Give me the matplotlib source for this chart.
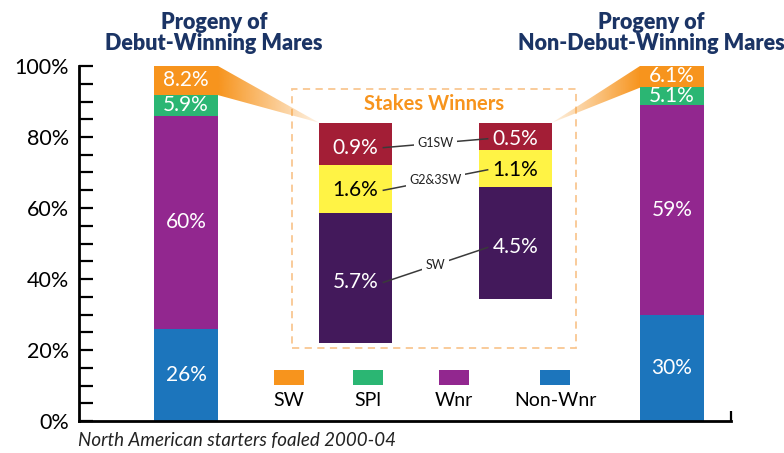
import numpy as np
import matplotlib
matplotlib.use("Agg")
import matplotlib.pyplot as plt
from matplotlib.patches import Polygon, Rectangle
from matplotlib.ticker import MultipleLocator, FixedLocator

plt.rcParams['font.family'] = ['Lato', 'DejaVu Sans']

# ---------------- data ----------------
groups = ["Progeny of\nDebut-Winning Mares", "Progeny of\nNon-Debut-Winning Mares"]
series = ["Non-Wnr", "Wnr", "SPl", "SW"]
non_wnr = [26, 30]
wnr = [60, 59]
spl = [5.9, 5.1]
sw = [8.2, 6.1]

# stakes-winner breakdown (top to bottom)
tiers = ["G1SW", "G2&3SW", "SW"]
g1sw = [0.9, 0.5]
g23sw = [1.6, 1.1]
sw_other = [5.7, 4.5]

yticks = [0, 20, 40, 60, 80, 100]
caption = "North American starters foaled 2000-04"

# ---------------- style ----------------
W, H = 784, 453
c_series = {"Non-Wnr": "#1C75BC", "Wnr": "#92278F", "SPl": "#2BB673", "SW": "#F7941D"}
c_tiers = ["#A31E36", "#FFF345", "#43195B"]
c_tier_text = ["white", "black", "white"]
navy = "#1B3465"
orange = "#F7941D"

def fy(py):
    return 1 - py / H

fig = plt.figure(figsize=(W / 100, H / 100), dpi=100)

# ---------------- main axes ----------------
ax = fig.add_axes([79 / W, 1 - 421 / H, 652 / W, 355 / H], zorder=1)
ax.set_facecolor("none")
x = np.arange(len(groups))
bw = 64 / 486
bottom = np.zeros(len(groups))
for name, vals in zip(series, [non_wnr, wnr, spl, sw]):
    vals = np.array(vals, dtype=float)
    ax.bar(x, vals, bw, bottom=bottom, color=c_series[name], linewidth=0)
    for xi, b, v in zip(x, bottom, vals):
        ax.text(xi, b + v / 2, f"{v:g}%", ha="center", va="center",
                color="white", fontsize=15)
    bottom += vals

xmin, xmax = -107 / 486, 545 / 486
ax.set_xlim(xmin, xmax)
ax.set_ylim(0, 100)
for s in ["top", "right"]:
    ax.spines[s].set_visible(False)
for s in ["left", "bottom"]:
    ax.spines[s].set_linewidth(2)
ax.yaxis.set_major_locator(FixedLocator(yticks))
ax.set_yticklabels([f"{v}%" for v in yticks])
ax.yaxis.set_minor_locator(MultipleLocator(5))
ax.tick_params(axis="y", which="both", direction="in", length=10, width=1.6,
               labelsize=15.5, pad=7)
ax.set_xticks([xmax])
ax.set_xticklabels([""])
ax.tick_params(axis="x", direction="in", length=7, width=1.6)

# group titles
fig.text(214 / W, fy(33), groups[0], ha="center", va="center", fontsize=15.5,
         fontweight="heavy", color=navy, linespacing=1.05)
fig.text(651 / W, fy(33), groups[1], ha="center", va="center", fontsize=15.5,
         fontweight="heavy", color=navy, linespacing=1.05)

# ---------------- stakes-winner inset ----------------
p = 0.75
fwd = lambda y: np.sign(y) * np.abs(y) ** p
inv = lambda y: np.sign(y) * np.abs(y) ** (1 / p)
ins = fig.add_axes([319 / W, 1 - 342.7 / H, 233 / W, 220 / H], zorder=2)
ins.set_facecolor("none")
ins.set_yscale("function", functions=(fwd, inv))
iw = 73 / 160.5
ins.set_xlim(-iw / 2, 1 + iw / 2)
totals = np.array(g1sw) + np.array(g23sw) + np.array(sw_other)
ins.set_ylim(totals.max(), 0)
ins.axis("off")

ibottom = np.zeros(2)
label_y = []
for k, vals in enumerate([g1sw, g23sw, sw_other]):
    vals = np.array(vals, dtype=float)
    ins.bar(x, vals, iw, bottom=ibottom, color=c_tiers[k], linewidth=0)
    ys = ibottom + vals / 2
    label_y.append(ys)
    for xi, yv, v in zip(x, ys, vals):
        ins.text(xi, yv, f"{v:g}%", ha="center", va="center",
                 color=c_tier_text[k], fontsize=15)
    ibottom += vals

# leader lines with tier names
off = 28 / 160.5
for k, name in enumerate(tiers):
    x0, y0 = 0 + off, label_y[k][0]
    x1, y1 = 1 - off, label_y[k][1]
    ins.plot([x0, x1], [y0, y1], color="#3a3a3a", lw=1.1, zorder=3)
    d0 = ins.transData.transform((x0, y0))
    d1 = ins.transData.transform((x1, y1))
    mx, my = ins.transData.inverted().transform((d0 + d1) / 2)
    ins.text(mx, my, name, ha="center", va="center", fontsize=9, color="#222222",
             zorder=4, bbox=dict(facecolor="white", edgecolor="none", pad=2.5))

# dashed box + title
box = Rectangle((292 / W, 1 - 348 / H), 284 / W, 259 / H, transform=fig.transFigure,
                fill=False, edgecolor="#F9C792", lw=1.3, ls=(0, (4, 3)), zorder=0.2)
fig.add_artist(box)
fig.text(434 / W, fy(104), "Stakes Winners", ha="center", va="center",
         fontsize=14.5, fontweight="bold", color=orange, zorder=3)

# ---------------- gradient wedges ----------------
ov = fig.add_axes([0, 0, 1, 1], zorder=0.5)
ov.axis("off")
rgb = matplotlib.colors.to_rgb(orange)
grad = np.zeros((1, 256, 4))
grad[..., :3] = rgb
grad[..., 3] = np.linspace(1.0, 0.12, 256)

def wedge(base_x, top_y, bot_y, tip):
    b1 = ax.transData.transform((base_x, top_y))
    b2 = ax.transData.transform((base_x, bot_y))
    t = ins.transData.transform(tip)
    poly = Polygon([b1, b2, t], closed=True, facecolor="none", edgecolor="none")
    ov.add_patch(poly)
    ylo = min(b1[1], b2[1], t[1])
    yhi = max(b1[1], b2[1], t[1])
    im = ov.imshow(grad, extent=(b1[0], t[0], ylo, yhi), aspect="auto",
                   interpolation="bilinear")
    im.set_clip_path(poly)

wedge(0 + bw / 2, 100, 100 - sw[0], (-iw / 2, 0))
wedge(1 - bw / 2, 100, 100 - sw[1], (1 + iw / 2, 0))
ov.set_xlim(0, W)
ov.set_ylim(0, H)

# ---------------- legend ----------------
leg_order = ["SW", "SPl", "Wnr", "Non-Wnr"]
leg_cx = [289, 368, 454, 555]
for name, cx in zip(leg_order, leg_cx):
    fig.add_artist(Rectangle(((cx - 15) / W, 1 - 385 / H), 30 / W, 15 / H,
                             transform=fig.transFigure, facecolor=c_series[name],
                             edgecolor="none"))
    fig.text(cx / W, fy(401), name, ha="center", va="center", fontsize=14)

fig.text(78 / W, fy(441), caption, ha="left", va="center", fontsize=13.5,
         style="italic", color="#222222")

fig.savefig("out.png", dpi=100)
